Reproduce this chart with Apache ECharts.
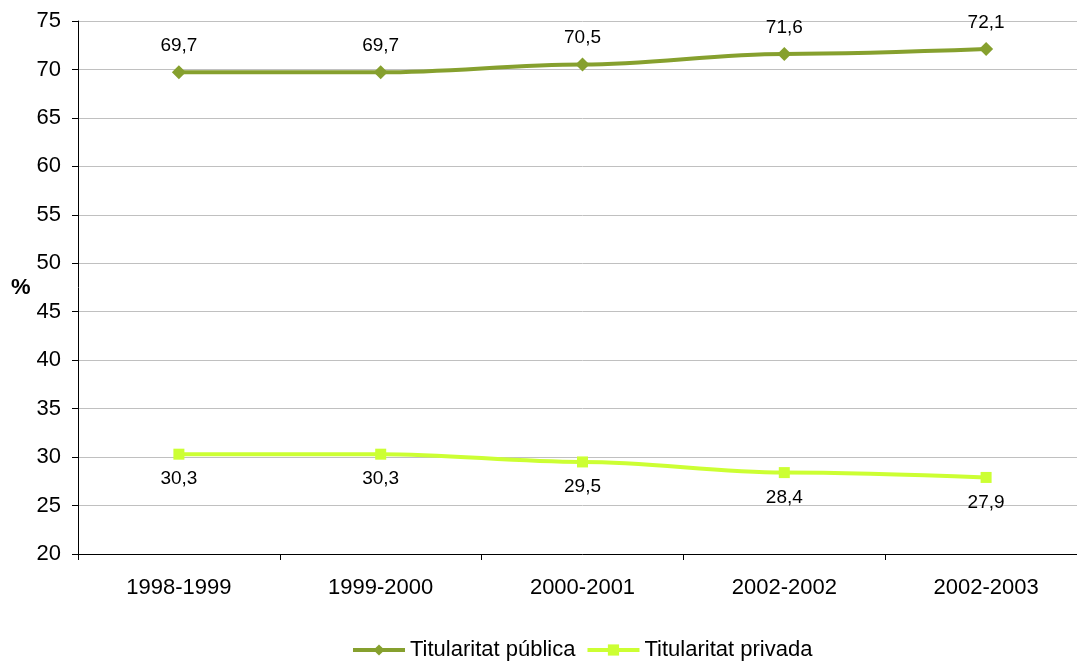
<!DOCTYPE html>
<html>
<head>
<meta charset="utf-8">
<script src="https://cdn.jsdelivr.net/npm/echarts@6/dist/echarts.min.js"></script>
<style>html,body{margin:0;padding:0;background:#fff;overflow:hidden}#c{width:1090px;height:662px}</style>
</head>
<body>
<div id="c"></div>
<script>
var categories = ['1998-1999', '1999-2000', '2000-2001', '2002-2002', '2002-2003'];
var publicValues = [69.7, 69.7, 70.5, 71.6, 72.1];
var privateValues = [30.3, 30.3, 29.5, 28.4, 27.9];
var seriesNames = ['Titularitat pública', 'Titularitat privada'];

var chart = echarts.init(document.getElementById('c'));
var font = 'Liberation Sans, Arial, sans-serif';
function fmt(p) { return String(p.value).replace('.', ','); }
chart.setOption({
  animation: false,
  textStyle: { fontFamily: font },
  grid: { left: 78, top: 21, width: 1009, height: 533, containLabel: false },
  legend: {
    top: 634, left: 346,
    itemWidth: 52, itemHeight: 14, itemGap: 10,
    lineStyle: { width: 4 },
    textStyle: { fontSize: 22, color: '#000', fontFamily: font },
    data: seriesNames
  },
  xAxis: {
    type: 'category', data: categories, boundaryGap: true,
    axisLine: { lineStyle: { color: '#000', width: 1 } },
    axisTick: { show: true, length: 6, lineStyle: { color: '#000' }, alignWithLabel: false },
    axisLabel: { fontSize: 22, color: '#000', margin: 23, fontFamily: font }
  },
  yAxis: {
    type: 'value', min: 20, max: 75, interval: 5,
    name: '%', nameLocation: 'middle', nameRotate: 0, nameGap: 47,
    nameTextStyle: { fontSize: 22, fontWeight: 'bold', color: '#000', fontFamily: font },
    axisLine: { show: true, lineStyle: { color: '#000', width: 1 } },
    axisTick: { show: true, length: 6, lineStyle: { color: '#000' } },
    axisLabel: { fontSize: 22, color: '#000', margin: 17, fontFamily: font },
    splitLine: { lineStyle: { color: '#C0C0C0', width: 1 } }
  },
  series: [
    {
      name: seriesNames[0], type: 'line', data: publicValues,
      smooth: 0.35, smoothMonotone: 'x',
      symbol: 'diamond', symbolSize: 14,
      lineStyle: { color: '#86A02E', width: 4 },
      itemStyle: { color: '#86A02E' },
      label: { show: true, position: 'top', distance: 10, fontSize: 19, color: '#000', formatter: fmt, fontFamily: font }
    },
    {
      name: seriesNames[1], type: 'line', data: privateValues,
      smooth: 0.35, smoothMonotone: 'x',
      symbol: 'rect', symbolSize: 11,
      lineStyle: { color: '#CCFF33', width: 4 },
      itemStyle: { color: '#CCFF33' },
      label: { show: true, position: 'bottom', distance: 10, fontSize: 19, color: '#000', formatter: fmt, fontFamily: font }
    }
  ]
});
</script>
</body>
</html>
